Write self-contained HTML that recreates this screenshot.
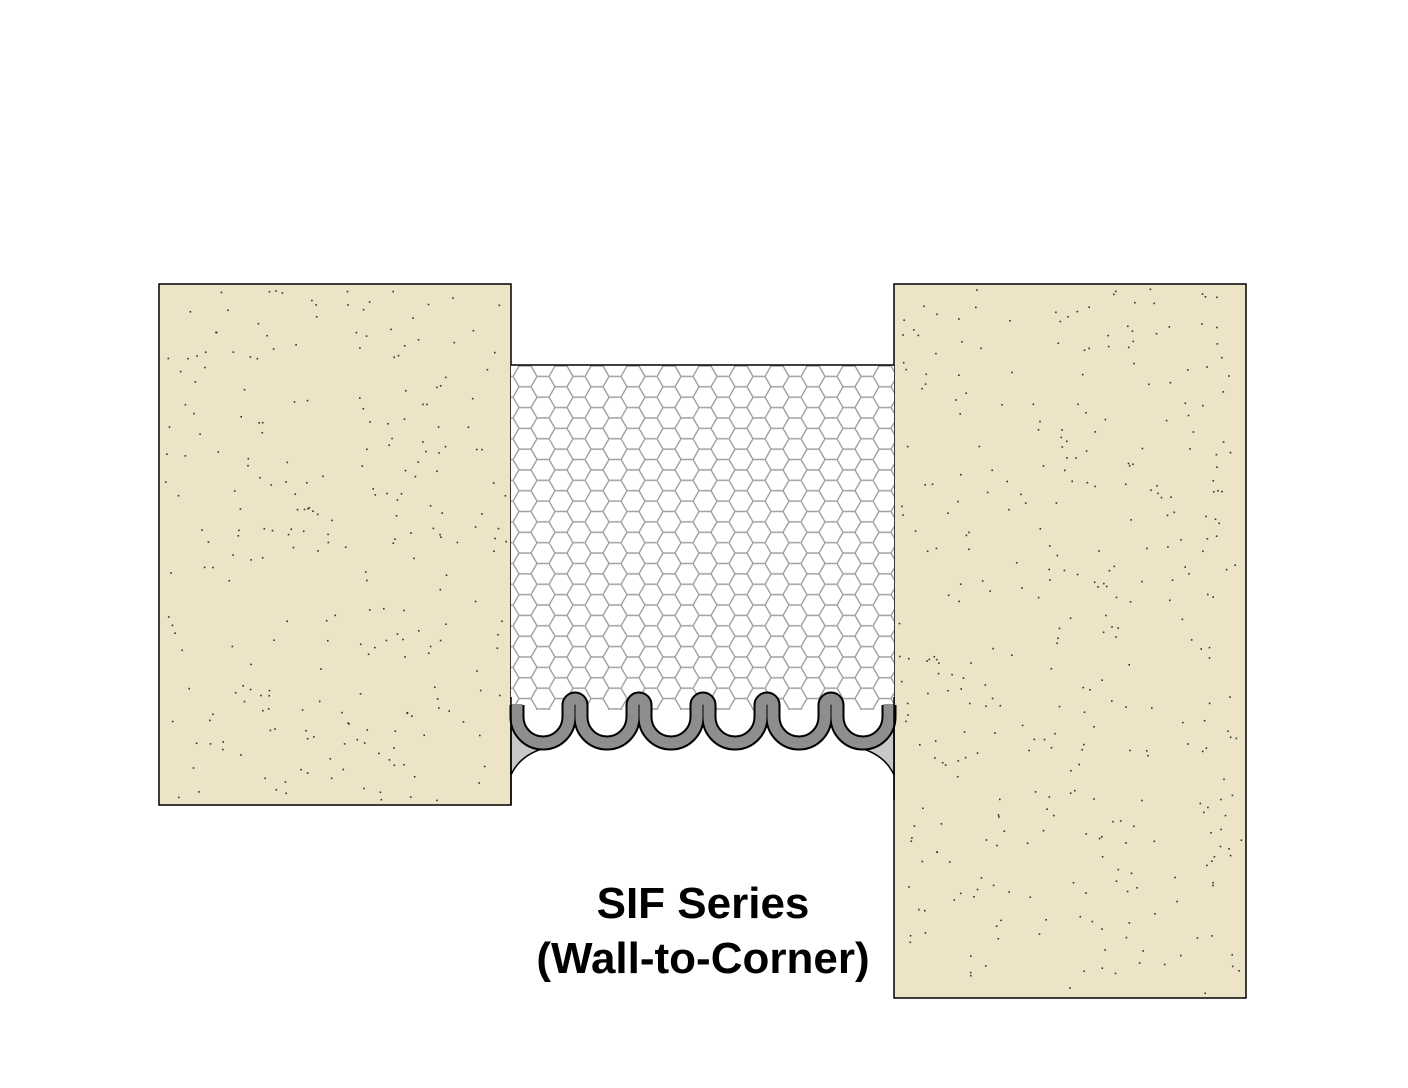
<!DOCTYPE html>
<html><head><meta charset="utf-8"><style>
html,body{margin:0;padding:0;background:#fff;width:1408px;height:1088px;overflow:hidden}
svg{display:block}
</style></head><body>
<svg id="s" width="1408" height="1088" viewBox="0 0 1408 1088" xmlns="http://www.w3.org/2000/svg">
<defs>
<pattern id="hex" patternUnits="userSpaceOnUse" x="513" y="366" width="36" height="20.785">
<path d="M6,0 L18,0 L24,10.39 L18,20.785 L6,20.785 L0,10.39 Z M24,10.39 L36,10.39" fill="none" stroke="#a0a0a0" stroke-width="1.4"/>
</pattern>
</defs>
<rect x="159" y="284" width="352" height="521" fill="#ede3c6" stroke="#000" stroke-width="1.5"/>
<rect x="894" y="284" width="352" height="714" fill="#ede3c6" stroke="#000" stroke-width="1.5"/>
<g id="dots" fill="#333"></g>
<rect x="511" y="365" width="383" height="345" fill="#fff"/>
<rect x="511" y="365" width="383" height="345" fill="url(#hex)"/>
<line x1="511" y1="365" x2="894" y2="365" stroke="#000" stroke-width="1.5"/>
<path d="M511,728 L545,748 Q520,755 511,775 Z" fill="#c8c8c8" stroke="#000" stroke-width="1.5"/>
<path d="M894,728 L860,748 Q885,755 894,775 Z" fill="#c8c8c8" stroke="#000" stroke-width="1.5"/>
<g fill="none" stroke-linejoin="round">
<path d="M517,705 L517,717 A26,26 0 0 0 569,717 L569,705 A6,6 0 0 1 581,705 L581,717 A26,26 0 0 0 633,717 L633,705 A6,6 0 0 1 645,705 L645,717 A26,26 0 0 0 697,717 L697,705 A6,6 0 0 1 709,705 L709,717 A26,26 0 0 0 761,717 L761,705 A6,6 0 0 1 773,705 L773,717 A26,26 0 0 0 825,717 L825,705 A6,6 0 0 1 837,705 L837,717 A26,26 0 0 0 889,717 L889,705" stroke="#000" stroke-width="15"/>
<path d="M517,704 L517,717 A26,26 0 0 0 569,717 L569,705 A6,6 0 0 1 581,705 L581,717 A26,26 0 0 0 633,717 L633,705 A6,6 0 0 1 645,705 L645,717 A26,26 0 0 0 697,717 L697,705 A6,6 0 0 1 709,705 L709,717 A26,26 0 0 0 761,717 L761,705 A6,6 0 0 1 773,705 L773,717 A26,26 0 0 0 825,717 L825,705 A6,6 0 0 1 837,705 L837,717 A26,26 0 0 0 889,717 L889,704" stroke="#8e8e90" stroke-width="11"/>
</g>
<line x1="511" y1="697" x2="511" y2="805" stroke="#000" stroke-width="1.5"/>
<line x1="894" y1="697" x2="894" y2="800" stroke="#000" stroke-width="1.5"/>
<text x="703" y="918" text-anchor="middle" font-family="Liberation Sans, sans-serif" font-weight="bold" font-size="44">SIF Series</text>
<text x="703" y="973" text-anchor="middle" font-family="Liberation Sans, sans-serif" font-weight="bold" font-size="44">(Wall-to-Corner)</text>
</svg>
<script>
(function(){
var seed=12345;function r(){seed=(seed*1103515245+12345)&0x7fffffff;return seed/0x7fffffff;}
var g=document.getElementById('dots'),h='';
function fill(x,y,w,hh,n){for(var i=0;i<n;i++){var px=x+4+r()*(w-8),py=y+4+r()*(hh-8);h+='<rect x="'+px.toFixed(1)+'" y="'+py.toFixed(1)+'" width="1.6" height="1.6"/>';}}
fill(159,284,352,521,260);fill(894,284,352,714,360);
g.innerHTML=h;
})();
</script>
</body></html>
